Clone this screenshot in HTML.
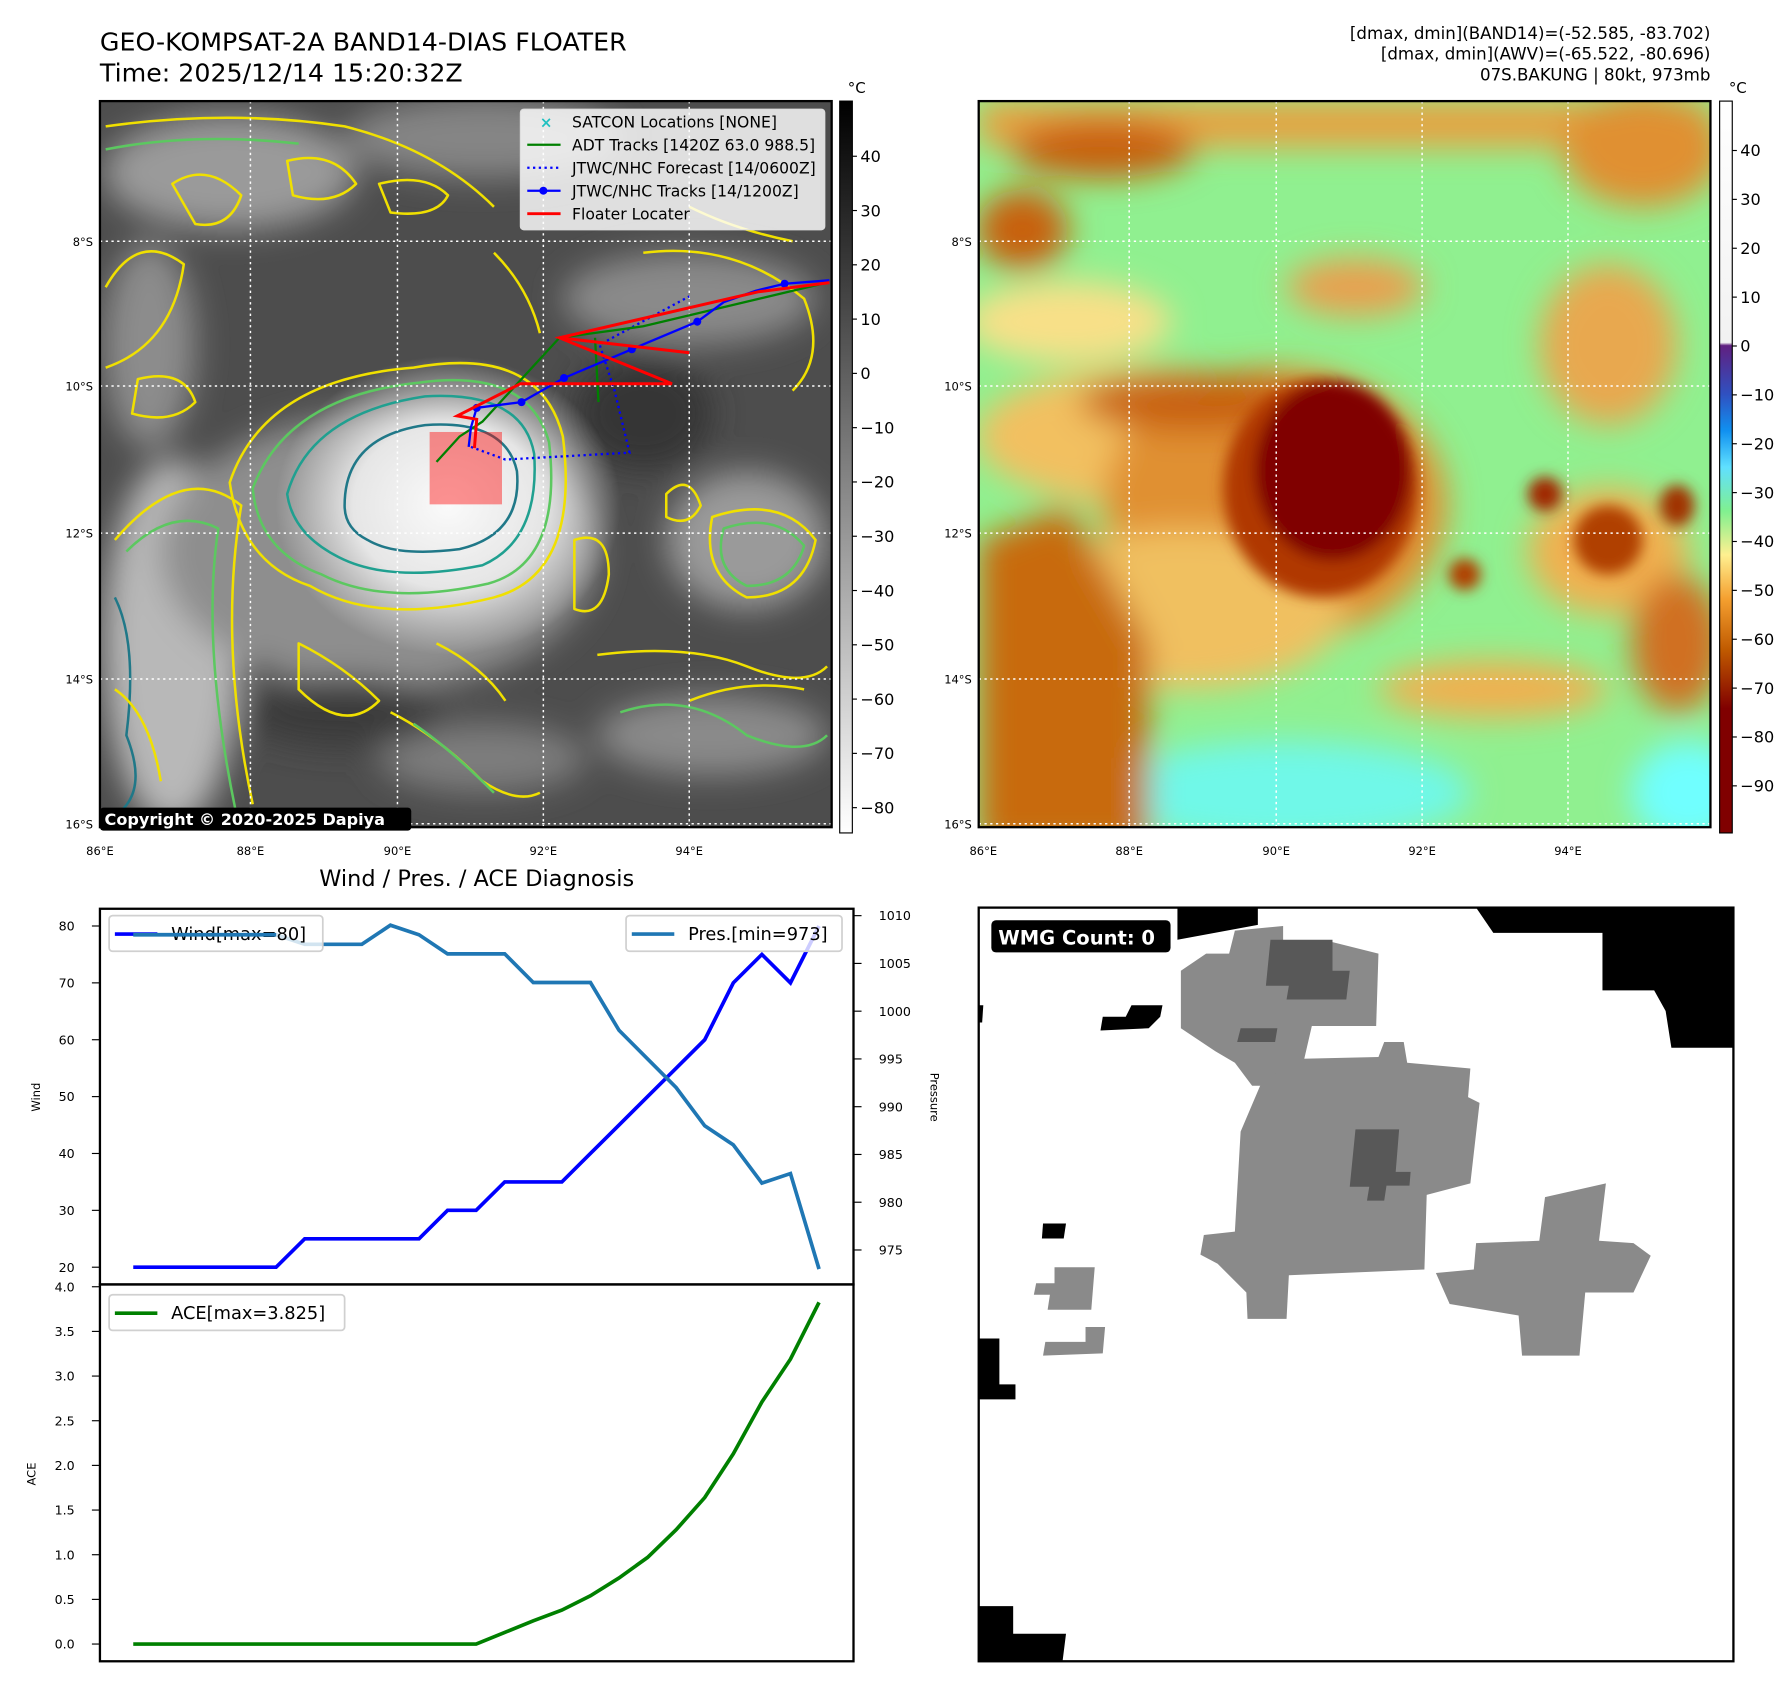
<!DOCTYPE html>
<html><head><meta charset="utf-8">
<style>
html,body{margin:0;padding:0;background:#fff;}
body{width:1792px;height:1690px;overflow:hidden;}
#root{position:absolute;left:0;top:0;width:1560px;height:1471px;transform:scale(1.148718,1.148878);transform-origin:0 0;font-family:"Liberation Sans","DejaVu Sans",sans-serif;}
svg text{font-family:"DejaVu Sans","Liberation Sans",sans-serif;}
</style></head>
<body>
<div id="root">
<svg id="fig" width="1560" height="1471" viewBox="0 0 1560 1471" xmlns="http://www.w3.org/2000/svg">
<defs>
 <filter id="b6" x="-50%" y="-50%" width="200%" height="200%"><feGaussianBlur stdDeviation="6"/></filter>
 <filter id="b14" x="-50%" y="-50%" width="200%" height="200%"><feGaussianBlur stdDeviation="14"/></filter>
 <clipPath id="clipL"><rect x="87" y="88" width="637" height="632"/></clipPath>
 <clipPath id="clipR"><rect x="852" y="88" width="637" height="632"/></clipPath>
 <clipPath id="clipW"><rect x="852" y="790" width="657" height="656"/></clipPath>
 <radialGradient id="eyeGlow" cx="0.5" cy="0.5" r="0.5">
  <stop offset="0" stop-color="#fafafa"/><stop offset="0.55" stop-color="#e6e6e6"/><stop offset="1" stop-color="#e0e0e0" stop-opacity="0"/>
 </radialGradient>
 <linearGradient id="cbL" x1="0" y1="0" x2="0" y2="1">
  <stop offset="0" stop-color="#000"/><stop offset="1" stop-color="#fff"/>
 </linearGradient>
 <linearGradient id="cbR" x1="0" y1="0" x2="0" y2="1">
  <stop offset="0" stop-color="#ffffff"/>
  <stop offset="0.33" stop-color="#f2f2f2"/>
  <stop offset="0.334" stop-color="#602080"/>
  <stop offset="0.40" stop-color="#3050c0"/>
  <stop offset="0.45" stop-color="#1090f0"/>
  <stop offset="0.50" stop-color="#60e0ff"/>
  <stop offset="0.56" stop-color="#80f090"/>
  <stop offset="0.62" stop-color="#fff090"/>
  <stop offset="0.68" stop-color="#f5a030"/>
  <stop offset="0.75" stop-color="#c05a00"/>
  <stop offset="0.83" stop-color="#800000"/>
  <stop offset="1" stop-color="#800000"/>
 </linearGradient>
</defs>

<!-- titles -->
<text x="87" y="44" font-size="22" fill="#000">GEO-KOMPSAT-2A BAND14-DIAS FLOATER</text>
<text x="87" y="71" font-size="22" fill="#000">Time: 2025/12/14 15:20:32Z</text>
<g font-size="14.5" text-anchor="end" fill="#000">
 <text x="1489" y="34">[dmax, dmin](BAND14)=(-52.585, -83.702)</text>
 <text x="1489" y="52">[dmax, dmin](AWV)=(-65.522, -80.696)</text>
 <text x="1489" y="70">07S.BAKUNG | 80kt, 973mb</text>
</g>

<!-- LEFT MAP -->
<g clip-path="url(#clipL)">
 <rect x="87" y="88" width="637" height="632" fill="#4d4d4d"/>
 <g filter="url(#b14)">
  <ellipse cx="200" cy="150" rx="110" ry="50" fill="#9a9a9a"/>
  <ellipse cx="420" cy="120" rx="120" ry="35" fill="#858585"/>
  <ellipse cx="130" cy="300" rx="40" ry="90" fill="#8c8c8c"/>
  <ellipse cx="600" cy="260" rx="110" ry="40" fill="#8a8a8a"/>
  <ellipse cx="150" cy="560" rx="60" ry="160" fill="#b8b8b8"/>
  <ellipse cx="330" cy="480" rx="190" ry="120" fill="#8e8e8e"/>
  <ellipse cx="650" cy="470" rx="70" ry="60" fill="#9a9a9a"/>
  <ellipse cx="620" cy="640" rx="100" ry="35" fill="#8a8a8a"/>
  <ellipse cx="420" cy="660" rx="90" ry="30" fill="#7d7d7d"/>
  <ellipse cx="560" cy="360" rx="60" ry="50" fill="#363636"/>
  <ellipse cx="300" cy="620" rx="90" ry="30" fill="#3a3a3a"/>
 </g>
 <ellipse cx="390" cy="440" rx="150" ry="130" fill="url(#eyeGlow)"/>
 <g fill="none" stroke-width="2.2" stroke-linejoin="round">
  <path d="M200 420 Q230 330 360 320 Q470 300 490 380 Q505 500 430 520 Q330 545 270 510 Q210 490 200 420 Z" stroke="#f0e000"/>
  <path d="M220 425 Q250 345 365 333 Q460 320 478 385 Q490 490 425 508 Q335 528 280 500 Q225 480 220 425 Z" stroke="#5cc860"/>
  <path d="M250 430 Q270 360 370 345 Q455 340 465 395 Q470 470 420 492 Q340 508 295 485 Q255 465 250 430 Z" stroke="#20a090"/>
  <path d="M300 440 Q300 380 370 370 Q440 365 450 410 Q455 465 400 478 Q345 485 320 470 Q300 460 300 440 Z" stroke="#207888"/>
  <path d="M100 470 Q160 400 210 440 Q190 560 220 700" stroke="#f0e000"/>
  <path d="M110 480 Q150 440 190 460 Q175 560 205 705" stroke="#5cc860"/>
  <path d="M92 110 Q200 95 300 110 Q380 130 430 180" stroke="#f0e000"/>
  <path d="M92 130 Q170 115 260 125" stroke="#5cc860"/>
  <path d="M92 250 Q120 200 160 230 Q150 300 92 320" stroke="#f0e000"/>
  <path d="M560 220 Q640 210 700 260 Q720 310 690 340" stroke="#f0e000"/>
  <path d="M580 430 Q600 410 610 440 Q600 460 580 450 Z" stroke="#f0e000"/>
  <path d="M620 450 Q680 430 710 470 Q700 520 650 520 Q610 500 620 450 Z" stroke="#f0e000"/>
  <path d="M630 460 Q675 445 700 475 Q690 510 650 510 Q620 495 630 460 Z" stroke="#5cc860"/>
  <path d="M500 470 Q530 460 530 500 Q525 540 500 530 Z" stroke="#f0e000"/>
  <path d="M520 570 Q600 560 650 580 Q700 600 720 580" stroke="#f0e000"/>
  <path d="M340 620 Q380 640 420 680 Q450 700 470 690" stroke="#f0e000"/>
  <path d="M360 630 Q390 650 430 690" stroke="#5cc860"/>
  <path d="M540 620 Q600 600 650 640 Q700 660 720 640" stroke="#5cc860"/>
  <path d="M100 520 Q120 560 110 640 Q130 690 100 710" stroke="#207888"/>
  <path d="M150 160 Q180 140 210 170 Q200 200 170 195 Z" stroke="#f0e000"/>
  <path d="M250 140 Q290 130 310 160 Q290 180 255 170 Z" stroke="#f0e000"/>
  <path d="M330 160 Q370 150 390 170 Q380 190 340 185 Z" stroke="#f0e000"/>
  <path d="M120 330 Q160 320 170 350 Q150 370 115 360 Z" stroke="#f0e000"/>
  <path d="M430 220 Q460 250 470 290" stroke="#f0e000"/>
  <path d="M600 180 Q640 200 690 210" stroke="#f0e000"/>
  <path d="M260 560 Q300 580 330 610 Q300 640 260 600 Z" stroke="#f0e000"/>
  <path d="M600 610 Q650 590 700 600" stroke="#f0e000"/>
  <path d="M100 600 Q130 620 140 680" stroke="#f0e000"/>
  <path d="M380 560 Q420 580 440 610" stroke="#f0e000"/>
 </g>
 <g stroke="#fff" stroke-width="1.3" stroke-dasharray="2,3">
  <line x1="218" y1="88" x2="218" y2="720"/><line x1="346" y1="88" x2="346" y2="720"/>
  <line x1="473" y1="88" x2="473" y2="720"/><line x1="600" y1="88" x2="600" y2="720"/>
  <line x1="87" y1="210" x2="724" y2="210"/><line x1="87" y1="336" x2="724" y2="336"/>
  <line x1="87" y1="464" x2="724" y2="464"/><line x1="87" y1="591" x2="724" y2="591"/>
  <line x1="87" y1="717" x2="724" y2="717"/>
 </g>
 <rect x="374" y="376" width="63" height="63" fill="#ff0000" fill-opacity="0.42"/>
 <polyline points="410,389 440,400 548,394 535,340 522,300 600,258" fill="none" stroke="#0000ff" stroke-width="2" stroke-dasharray="2,3"/>
 <polyline points="380,402 400,380 420,367 487,294 560,284 720,246" fill="none" stroke="#008000" stroke-width="2"/>
 <polyline points="518,294 521,350" fill="none" stroke="#008000" stroke-width="2"/>
 <polyline points="722,244 683,247 658,253 630,263 607,280 550,304 491,329 454,350 415,355 410,372 408,389" fill="none" stroke="#0000ff" stroke-width="2"/>
 <g fill="#0000ff"><circle cx="683" cy="247" r="3.5"/><circle cx="607" cy="280" r="3.5"/><circle cx="550" cy="304" r="3.5"/><circle cx="491" cy="329" r="3.5"/><circle cx="454" cy="350" r="3.5"/><circle cx="415" cy="355" r="3.5"/></g>
 <polyline points="722,246 660,254 487,294 585,334 453,334 398,362 415,365 413,390" fill="none" stroke="#ff0000" stroke-width="2.6"/>
 <polyline points="487,294 600,307" fill="none" stroke="#ff0000" stroke-width="2.6"/>
</g>
<rect x="87" y="88" width="637" height="632" fill="none" stroke="#000" stroke-width="2"/>
<g>
 <rect x="87" y="703" width="271" height="20" rx="3" fill="#000"/>
 <text x="91" y="718" font-size="14" font-weight="bold" fill="#fff">Copyright © 2020-2025 Dapiya</text>
</g>
<g>
 <rect x="453" y="95" width="265" height="105" rx="3" fill="#fff" fill-opacity="0.82" stroke="#ddd"/>
 <text x="470" y="111" font-size="13" fill="#20c0c0" font-weight="bold">×</text>
 <line x1="459" y1="126" x2="488" y2="126" stroke="#008000" stroke-width="2"/>
 <line x1="459" y1="146" x2="488" y2="146" stroke="#0000ff" stroke-width="2" stroke-dasharray="2,3"/>
 <line x1="459" y1="166" x2="488" y2="166" stroke="#0000ff" stroke-width="2"/><circle cx="473" cy="166" r="3.5" fill="#0000ff"/>
 <line x1="459" y1="186" x2="488" y2="186" stroke="#ff0000" stroke-width="2.5"/>
 <g font-size="13.6" fill="#000">
  <text x="498" y="111">SATCON Locations [NONE]</text>
  <text x="498" y="131">ADT Tracks [1420Z 63.0 988.5]</text>
  <text x="498" y="151">JTWC/NHC Forecast [14/0600Z]</text>
  <text x="498" y="171">JTWC/NHC Tracks [14/1200Z]</text>
  <text x="498" y="191">Floater Locater</text>
 </g>
</g>
<g font-size="10" fill="#000">
 <text x="81" y="214" text-anchor="end">8°S</text><text x="81" y="340" text-anchor="end">10°S</text>
 <text x="81" y="468" text-anchor="end">12°S</text><text x="81" y="595" text-anchor="end">14°S</text>
 <text x="81" y="721" text-anchor="end">16°S</text>
 <text x="87" y="744" text-anchor="middle">86°E</text><text x="218" y="744" text-anchor="middle">88°E</text>
 <text x="346" y="744" text-anchor="middle">90°E</text><text x="473" y="744" text-anchor="middle">92°E</text>
 <text x="600" y="744" text-anchor="middle">94°E</text>
</g>
<g>
 <rect x="731" y="88" width="11" height="637" fill="url(#cbL)" stroke="#000" stroke-width="1"/>
 <text x="738" y="81" font-size="13">°C</text>
 <g id="cbLticks" font-size="14"></g>
</g>

<!-- RIGHT MAP -->
<g clip-path="url(#clipR)">
 <rect x="852" y="88" width="637" height="632" fill="#90f090"/>
 <g filter="url(#b14)">
  <rect x="852" y="88" width="637" height="40" fill="#e8a040"/>
  <ellipse cx="960" cy="130" rx="80" ry="25" fill="#c86010"/>
  <ellipse cx="890" cy="200" rx="40" ry="35" fill="#c86010"/>
  <ellipse cx="1430" cy="130" rx="70" ry="50" fill="#e09030"/>
  <ellipse cx="1400" cy="300" rx="60" ry="70" fill="#e8a850"/>
  <ellipse cx="1180" cy="250" rx="60" ry="25" fill="#e8a050"/>
  <ellipse cx="930" cy="280" rx="90" ry="35" fill="#f8e088"/>
  <ellipse cx="1000" cy="380" rx="150" ry="60" fill="#f2c060"/>
  <ellipse cx="1110" cy="440" rx="150" ry="120" fill="#e09030"/>
  <ellipse cx="1030" cy="530" rx="140" ry="70" fill="#f0c060"/>
  <ellipse cx="1400" cy="480" rx="70" ry="55" fill="#f0b050"/>
  <ellipse cx="1460" cy="560" rx="40" ry="60" fill="#d07020"/>
  <ellipse cx="1300" cy="600" rx="100" ry="25" fill="#f0b050"/>
  <ellipse cx="1120" cy="690" rx="160" ry="45" fill="#70f8e8"/>
  <ellipse cx="1470" cy="690" rx="50" ry="45" fill="#70ffff"/>
  <polygon points="852,470 930,440 1000,560 1000,740 852,740" fill="#c86a10"/>
  <ellipse cx="1040" cy="350" rx="100" ry="25" fill="#c86010"/>
 </g>
 <g filter="url(#b6)">
  <ellipse cx="1150" cy="425" rx="85" ry="95" fill="#b03800"/>
  <ellipse cx="1160" cy="410" rx="68" ry="78" fill="#800000"/>
  <ellipse cx="1345" cy="430" rx="15" ry="15" fill="#a02800"/>
  <ellipse cx="1400" cy="470" rx="30" ry="30" fill="#b04000"/>
  <ellipse cx="1275" cy="500" rx="14" ry="14" fill="#b04000"/>
  <ellipse cx="1460" cy="440" rx="15" ry="18" fill="#a03000"/>
 </g>
 <g stroke="#fff" stroke-width="1.3" stroke-dasharray="2,3">
  <line x1="983" y1="88" x2="983" y2="720"/><line x1="1111" y1="88" x2="1111" y2="720"/>
  <line x1="1238" y1="88" x2="1238" y2="720"/><line x1="1365" y1="88" x2="1365" y2="720"/>
  <line x1="852" y1="210" x2="1489" y2="210"/><line x1="852" y1="336" x2="1489" y2="336"/>
  <line x1="852" y1="464" x2="1489" y2="464"/><line x1="852" y1="591" x2="1489" y2="591"/>
  <line x1="852" y1="717" x2="1489" y2="717"/>
 </g>
</g>
<rect x="852" y="88" width="637" height="632" fill="none" stroke="#000" stroke-width="2"/>
<g font-size="10" fill="#000">
 <text x="846" y="214" text-anchor="end">8°S</text><text x="846" y="340" text-anchor="end">10°S</text>
 <text x="846" y="468" text-anchor="end">12°S</text><text x="846" y="595" text-anchor="end">14°S</text>
 <text x="846" y="721" text-anchor="end">16°S</text>
 <text x="856" y="744" text-anchor="middle">86°E</text><text x="983" y="744" text-anchor="middle">88°E</text>
 <text x="1111" y="744" text-anchor="middle">90°E</text><text x="1238" y="744" text-anchor="middle">92°E</text>
 <text x="1365" y="744" text-anchor="middle">94°E</text>
</g>
<g>
 <rect x="1497" y="88" width="11" height="637" fill="url(#cbR)" stroke="#000" stroke-width="1"/>
 <text x="1505" y="81" font-size="13">°C</text>
 <g id="cbRticks" font-size="14"></g>
</g>

<text x="415" y="771" font-size="19.5" text-anchor="middle">Wind / Pres. / ACE Diagnosis</text>
<g id="diag"></g>

<!-- WMG PANEL -->
<g clip-path="url(#clipW)">
 <rect x="852" y="790" width="657" height="656" fill="#fff"/>
 <g fill="#000">
  <polygon points="1025,790 1095,790 1095,805 1025,818"/>
  <polygon points="1285,790 1400,790 1400,812 1300,812"/>
  <polygon points="1395,790 1509,790 1509,912 1455,912 1450,880 1440,862 1395,862"/>
  <polygon points="960,885 980,885 985,875 1012,875 1010,885 1000,895 958,897"/>
  <polygon points="908,1065 928,1065 926,1078 907,1078"/>
  <polygon points="852,1165 870,1165 870,1205 884,1205 884,1218 852,1218"/>
  <polygon points="852,1398 882,1398 882,1422 928,1422 925,1446 852,1446"/>
  <polygon points="852,875 856,875 855,890 852,890"/>
 </g>
 <g fill="#8a8a8a">
  <polygon points="1028,845 1050,830 1070,830 1075,810 1117,806 1117,820 1160,820 1200,830 1198,893 1142,893 1130,945 1090,945 1075,925 1058,915 1028,895"/>
  <polygon points="1080,985 1100,938 1110,935 1115,922 1200,920 1205,907 1222,907 1225,925 1280,930 1278,955 1288,960 1280,1030 1242,1040 1240,1105 1122,1110 1120,1148 1086,1148 1085,1125 1060,1100 1045,1092 1048,1075 1075,1072"/>
  <polygon points="1285,1082 1340,1080 1345,1042 1398,1030 1392,1080 1422,1082 1437,1093 1422,1125 1380,1125 1375,1180 1325,1180 1322,1145 1262,1135 1250,1108 1283,1105"/>
  <polygon points="918,1103 953,1103 950,1140 912,1140 914,1127 900,1127 902,1117 918,1117"/>
  <polygon points="945,1155 962,1155 960,1178 908,1180 910,1168 945,1168"/>
 </g>
 <g fill="#585858">
  <polygon points="1106,818 1160,818 1160,845 1175,845 1172,870 1120,870 1122,858 1102,858"/>
  <polygon points="1180,983 1218,983 1215,1020 1228,1020 1227,1032 1207,1032 1205,1045 1190,1045 1192,1033 1175,1033"/>
  <polygon points="1080,895 1112,895 1110,907 1077,907"/>
 </g>
 <rect x="863" y="801" width="156" height="28" rx="4" fill="#000"/>
 <text x="869" y="822" font-size="17" font-weight="bold" fill="#fff">WMG Count: 0</text>
</g>
<rect x="852" y="790" width="657" height="656" fill="none" stroke="#000" stroke-width="2"/>
</svg>
</div>
<script>
const windValues = [20,20,20,20,20,20,25,25,25,25,25,30,30,35,35,35,40,45,50,55,60,70,75,70,80];
const presValues = [1008,1008,1008,1008,1008,1008,1007,1007,1007,1009,1008,1006,1006,1006,1003,1003,1003,998,995,992,988,986,982,983,973];
const aceValues = [0,0,0,0,0,0,0,0,0,0,0,0,0,0.13,0.26,0.38,0.54,0.74,0.97,1.28,1.64,2.13,2.71,3.19,3.825];
const windTicks = [20,30,40,50,60,70,80];
const presTicks = [975,980,985,990,995,1000,1005,1010];
const aceTicks = [0,0.5,1,1.5,2,2.5,3,3.5,4];
const cbLeftTicks = [40,30,20,10,0,-10,-20,-30,-40,-50,-60,-70,-80];
const cbRightTicks = [40,30,20,10,0,-10,-20,-30,-40,-50,-60,-70,-80,-90];

const NS = 'http://www.w3.org/2000/svg';
function mk(tag, attrs, parent){const e=document.createElementNS(NS,tag);for(const k in attrs)e.setAttribute(k,attrs[k]);parent.appendChild(e);return e;}
const xS = i => 116 + i*(713-116)/24;
const yWind = v => 1103 - (v-20)*(1103-806)/60;
const yPres = p => 1088 - (p-975)*(1088-797)/35;
const yAce = a => 1431 - a*(1431-1120)/4;
const cbLY = v => 136 + (40-v)*47.25/10;
const cbRY = v => 131 + (40-v)*42.54/10;

const gl=document.getElementById('cbLticks');
cbLeftTicks.forEach(v=>{
  const l=mk('line',{x1:742,x2:746,y1:cbLY(v),y2:cbLY(v),stroke:'#000'},gl);
  
  
  const t=mk('text',{x:749,y:cbLY(v)+5},gl);
  
  
  t.textContent=v<0?'\u2212'+(-v):String(v);
});
const gr=document.getElementById('cbRticks');
cbRightTicks.forEach(v=>{
  const l=mk('line',{x1:1508,x2:1512,y1:cbRY(v),y2:cbRY(v),stroke:'#000'},gr);
  
  
  const t=mk('text',{x:1515,y:cbRY(v)+5},gr);
  
  
  t.textContent=v<0?'\u2212'+(-v):String(v);
});

const g=document.getElementById('diag');
const f1=mk('rect',{x:87,y:791,width:656,height:327,fill:'none',stroke:'#000','stroke-width':2},g);


const f2=mk('rect',{x:87,y:1118,width:656,height:328,fill:'none',stroke:'#000','stroke-width':2},g);


windTicks.forEach(v=>{
  mk('line',{x1:80,x2:87,y1:yWind(v),y2:yWind(v),stroke:'#000'},g);
  const t=mk('text',{x:65,y:yWind(v)+4,'font-size':11,'text-anchor':'end'},g);
  
  
  t.textContent=v;
});
presTicks.forEach(v=>{
  mk('line',{x1:743,x2:750,y1:yPres(v),y2:yPres(v),stroke:'#000'},g);
  const t=mk('text',{x:765,y:yPres(v)+4,'font-size':11},g);
  
  
  t.textContent=v;
});
aceTicks.forEach(v=>{
  mk('line',{x1:80,x2:87,y1:yAce(v),y2:yAce(v),stroke:'#000'},g);
  const t=mk('text',{x:65,y:yAce(v)+4,'font-size':11,'text-anchor':'end'},g);
  
  
  t.textContent=v.toFixed(1);
});
const yl1=mk('text',{x:0,y:0,'font-size':10,'text-anchor':'middle',transform:'translate(35,955) rotate(-90)'},g);


yl1.textContent='Wind';
const yl2=mk('text',{x:0,y:0,'font-size':10,'text-anchor':'middle',transform:'translate(810,955) rotate(90)'},g);


yl2.textContent='Pressure';
const yl3=mk('text',{x:0,y:0,'font-size':10,'text-anchor':'middle',transform:'translate(31,1283) rotate(-90)'},g);


yl3.textContent='ACE';

const wl=mk('polyline',{points:windValues.map((v,i)=>xS(i)+','+yWind(v)).join(' '),fill:'none',stroke:'#0000ff','stroke-width':3.2},g);


const pl=mk('polyline',{points:presValues.map((v,i)=>xS(i)+','+yPres(v)).join(' '),fill:'none',stroke:'#1f77b4','stroke-width':3.2},g);


const al=mk('polyline',{points:aceValues.map((v,i)=>xS(i)+','+yAce(v)).join(' '),fill:'none',stroke:'#008000','stroke-width':3.2},g);



function legend(x,y,w,color,label,name){
  const lg=mk('g',{},g);
  
  
  mk('rect',{x:x,y:y,width:w,height:31,rx:3,fill:'#fff','fill-opacity':0.8,stroke:'#d0d0d0','stroke-width':1.5},lg);
  mk('line',{x1:x+5,x2:x+42,y1:y+16,y2:y+16,stroke:color,'stroke-width':3.2},lg);
  const t=mk('text',{x:x+54,y:y+21,'font-size':15.5},lg);
  t.textContent=label;
}
legend(95,797,186,'#0000ff','Wind[max=80]','wind-legend');
legend(545,797,188,'#1f77b4','Pres.[min=973]','pressure-legend');
legend(95,1127,205,'#008000','ACE[max=3.825]','ace-legend');
const pl2=mk('polyline',{points:presValues.slice(0,6).map((v,i)=>xS(i)+','+yPres(v)).join(' '),fill:'none',stroke:'#1f77b4','stroke-width':3.2},g);


</script>
</body></html>
